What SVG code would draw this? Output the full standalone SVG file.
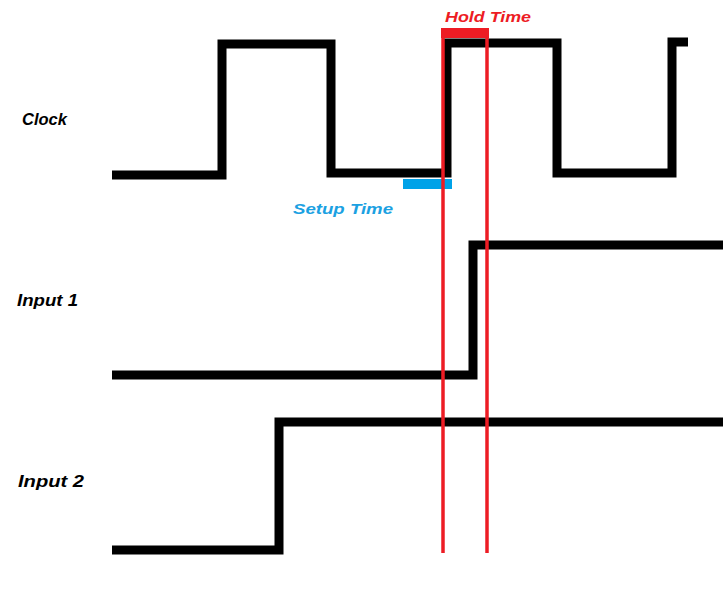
<svg xmlns="http://www.w3.org/2000/svg" width="723" height="595" viewBox="0 0 723 595">
<style>
.sig{fill:none;stroke:#000;stroke-width:9;stroke-linejoin:miter;stroke-linecap:butt}
.lbl{font-family:"Liberation Sans",Arial,sans-serif;font-weight:bold;font-style:italic;font-size:16px;fill:#000}
.red{stroke:#ed1c24;stroke-width:3.5}
</style>
<rect width="723" height="595" fill="#fff"/>
<g id="clock">
<polyline class="sig" points="112,175 222,175 222,44 331,44 331,173 447,173 447,43 557,43 557,173 672,173 672,42 688,42"/>
<text class="lbl" x="22" y="125" textLength="45" lengthAdjust="spacingAndGlyphs">Clock</text>
</g>
<g id="input1">
<polyline class="sig" points="112,375 473,375 473,245 723,245"/>
<text class="lbl" x="17" y="306" textLength="61" lengthAdjust="spacingAndGlyphs">Input 1</text>
</g>
<g id="input2">
<polyline class="sig" points="112,550 279,550 279,422 723,422"/>
<text class="lbl" x="18" y="487" textLength="66" lengthAdjust="spacingAndGlyphs">Input 2</text>
</g>
<g id="setup">
<rect x="403" y="179" width="49" height="10" fill="#00a2e8"/>
<text x="293" y="214" font-family="Liberation Sans, Arial, sans-serif" font-weight="bold" font-style="italic" font-size="15" fill="#1ba1e2" textLength="100" lengthAdjust="spacingAndGlyphs">Setup Time</text>
</g>
<g id="hold">
<rect x="441" y="28" width="48" height="10" fill="#ed1c24"/>
<line class="red" x1="443" y1="28" x2="443" y2="553"/>
<line class="red" x1="487" y1="28" x2="487" y2="553"/>
<text x="445" y="22" font-family="Liberation Sans, Arial, sans-serif" font-weight="bold" font-style="italic" font-size="15" fill="#ed1c24" textLength="86" lengthAdjust="spacingAndGlyphs">Hold Time</text>
</g>
</svg>
